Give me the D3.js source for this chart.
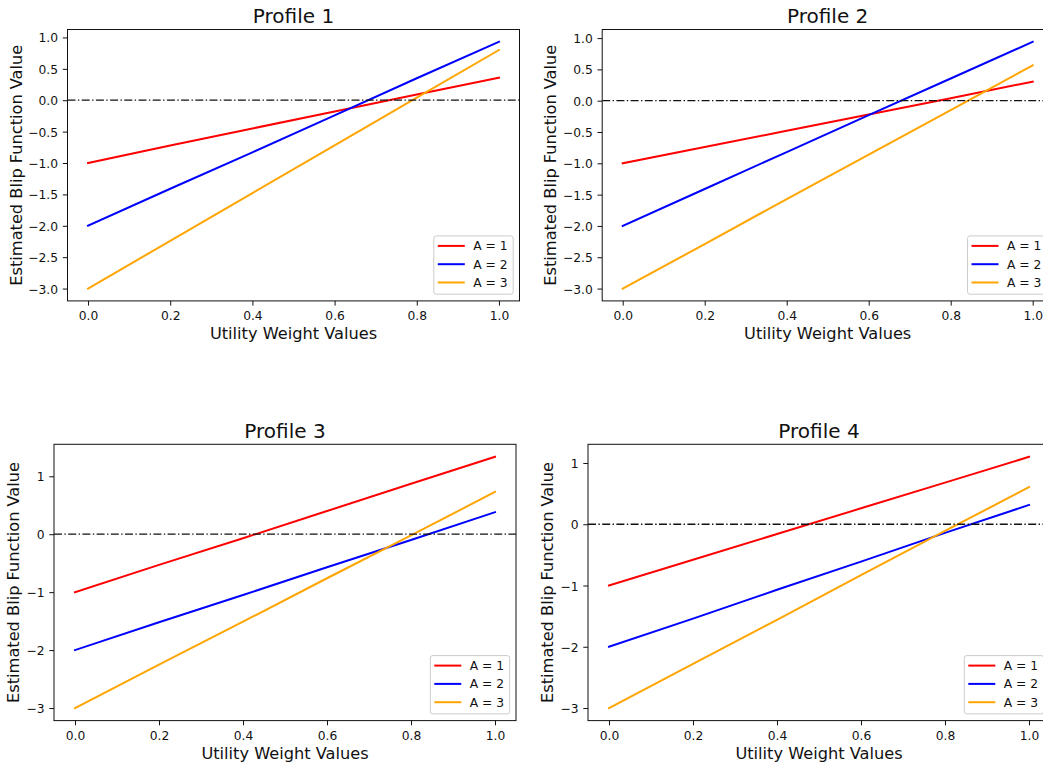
<!DOCTYPE html>
<html>
<head>
<meta charset="utf-8">
<script src="https://cdn.jsdelivr.net/npm/d3@7"></script>
<style>
  html, body { margin: 0; padding: 0; background: #fff; overflow: hidden; }
  svg { display: block; font-family: "DejaVu Sans", sans-serif; }
</style>
</head>
<body>
<svg id="fig" width="1043" height="768"></svg>
<script>
// Utility weight grid shared by every profile
const weights = [0, 0.2, 0.4, 0.6, 0.8, 1.0];

// Estimated blip function values per profile and treatment A
const p1_a1 = [-1.0, -0.72, -0.45, -0.18, 0.09, 0.36];
const p1_a2 = [-2.0, -1.41, -0.83, -0.24, 0.35, 0.93];
const p1_a3 = [-3.0, -2.24, -1.48, -0.72, 0.04, 0.80];

const p2_a1 = [-1.0, -0.74, -0.48, -0.22, 0.04, 0.305];
const p2_a2 = [-2.0, -1.41, -0.82, -0.23, 0.355, 0.94];
const p2_a3 = [-3.0, -2.29, -1.57, -0.86, -0.15, 0.565];

const p3_a1 = [-1.0, -0.53, -0.07, 0.40, 0.87, 1.335];
const p3_a2 = [-2.0, -1.52, -1.05, -0.57, -0.10, 0.38];
const p3_a3 = [-3.0, -2.25, -1.51, -0.76, -0.02, 0.73];

const p4_a1 = [-1.0, -0.58, -0.16, 0.26, 0.68, 1.10];
const p4_a2 = [-2.0, -1.54, -1.07, -0.61, -0.14, 0.315];
const p4_a3 = [-3.0, -2.28, -1.56, -0.83, -0.11, 0.605];

const titles = ["Profile 1", "Profile 2", "Profile 3", "Profile 4"];
const seriesNames = ["A = 1", "A = 2", "A = 3"];
const seriesColors = ["#ff0000", "#0000ff", "#ffa500"];

const xTicks = [0, 0.2, 0.4, 0.6, 0.8, 1.0];
const yTicksHalf = [-3, -2.5, -2, -1.5, -1, -0.5, 0, 0.5, 1];
const yTicksUnit = [-3, -2, -1, 0, 1];

const xLabel = "Utility Weight Values";
const yLabel = "Estimated Blip Function Value";

// Panel frames (pixel layout of each axes box)
const frames = [
  { left: 67.5, top: 29.5,  width: 452, height: 271.4, yTicks: yTicksHalf, yFmt: ".1f", yLabelOff: 45.5 },
  { left: 602.2, top: 29.5, width: 451, height: 271.4, yTicks: yTicksHalf, yFmt: ".1f", yLabelOff: 46.3 },
  { left: 54,   top: 444.3, width: 462, height: 276.3, yTicks: yTicksUnit, yFmt: "d",   yLabelOff: 35.3 },
  { left: 588,  top: 444.3, width: 462, height: 276.3, yTicks: yTicksUnit, yFmt: "d",   yLabelOff: 34.8 }
];

const panelData = [
  [p1_a1, p1_a2, p1_a3],
  [p2_a1, p2_a2, p2_a3],
  [p3_a1, p3_a2, p3_a3],
  [p4_a1, p4_a2, p4_a3]
];

const ink = "#111";
const tickFs = 12.3, labelFs = 16.2, titleFs = 20;
const tickLen = 4.7, tickPad = 4.7;

const svg = d3.select("#fig");

frames.forEach((f, i) => {
  const series = panelData[i];
  const all = series.flat();
  const lo = d3.min(all), hi = d3.max(all);
  const m = (hi - lo) * 0.05;

  const x = d3.scaleLinear().domain([-0.05, 1.05]).range([f.left, f.left + f.width]);
  const y = d3.scaleLinear().domain([lo - m, hi + m]).range([f.top + f.height, f.top]);

  const g = svg.append("g");

  // clip region for plotted data
  const clipId = "clip" + i;
  svg.append("defs").append("clipPath").attr("id", clipId)
    .append("rect").attr("x", f.left).attr("y", f.top).attr("width", f.width).attr("height", f.height);

  const plot = g.append("g").attr("clip-path", `url(#${clipId})`);

  // series lines
  const line = d3.line().x((d, k) => x(weights[k])).y(d => y(d));
  series.forEach((vals, s) => {
    plot.append("path")
      .datum(vals)
      .attr("d", line)
      .attr("fill", "none")
      .attr("stroke", seriesColors[s])
      .attr("stroke-width", 2)
      .attr("stroke-linecap", "square");
  });

  // zero reference line (dash-dot)
  plot.append("line")
    .attr("x1", f.left).attr("x2", f.left + f.width)
    .attr("y1", y(0)).attr("y2", y(0))
    .attr("stroke", "#111")
    .attr("stroke-width", 1.3)
    .attr("stroke-dasharray", "8,2.4,1.4,2.4");

  // x axis
  const xAxis = d3.axisBottom(x).tickValues(xTicks).tickFormat(d3.format(".1f"))
    .tickSize(tickLen).tickPadding(tickPad);
  const gx = g.append("g").attr("transform", `translate(0,${f.top + f.height})`).call(xAxis);
  gx.select(".domain").remove();
  gx.selectAll(".tick line").attr("stroke", ink).attr("stroke-width", 1);
  gx.selectAll(".tick text").attr("fill", ink).attr("font-size", tickFs)
    .attr("font-family", "DejaVu Sans").attr("dy", null).attr("y", 19).attr("dominant-baseline", "auto");

  // y axis
  const yAxis = d3.axisLeft(y).tickValues(f.yTicks).tickFormat(d3.format(f.yFmt))
    .tickSize(tickLen).tickPadding(tickPad);
  const gy = g.append("g").attr("transform", `translate(${f.left},0)`).call(yAxis);
  gy.select(".domain").remove();
  gy.selectAll(".tick line").attr("stroke", ink).attr("stroke-width", 1);
  gy.selectAll(".tick text").attr("fill", ink).attr("font-size", tickFs)
    .attr("font-family", "DejaVu Sans").attr("dy", (tickFs * 0.365).toFixed(2));

  // axes frame
  g.append("rect")
    .attr("x", f.left).attr("y", f.top).attr("width", f.width).attr("height", f.height)
    .attr("fill", "none").attr("stroke", ink).attr("stroke-width", 1);

  // title
  g.append("text")
    .attr("x", f.left + f.width / 2).attr("y", f.top - 6.3)
    .attr("text-anchor", "middle").attr("font-size", titleFs).attr("fill", ink)
    .text(titles[i]);

  // axis labels
  g.append("text")
    .attr("x", f.left + f.width / 2).attr("y", f.top + f.height + 38.5)
    .attr("text-anchor", "middle").attr("font-size", labelFs).attr("fill", ink)
    .text(xLabel);

  g.append("text")
    .attr("transform", `translate(${f.left - f.yLabelOff},${f.top + f.height / 2}) rotate(-90)`)
    .attr("text-anchor", "middle").attr("font-size", labelFs).attr("fill", ink)
    .text(yLabel);

  // legend (lower right)
  const lw = 79.4, lh = 58.3;
  const lx = f.left + f.width - 6.3 - lw;
  const ly = f.top + f.height - 6.7 - lh;
  const leg = g.append("g");
  leg.append("rect")
    .attr("x", lx).attr("y", ly).attr("width", lw).attr("height", lh)
    .attr("rx", 2.5).attr("ry", 2.5)
    .attr("fill", "rgba(255,255,255,0.8)").attr("stroke", "#cccccc").attr("stroke-width", 1);
  seriesNames.forEach((name, s) => {
    const ry = ly + 10 + s * 18.3;
    leg.append("line")
      .attr("x1", lx + 4).attr("x2", lx + 31).attr("y1", ry).attr("y2", ry)
      .attr("stroke", seriesColors[s]).attr("stroke-width", 2);
    leg.append("text")
      .attr("x", lx + 39.4).attr("y", ry + tickFs * 0.365)
      .attr("font-size", tickFs).attr("fill", ink)
      .text(name);
  });
});
</script>
</body>
</html>
